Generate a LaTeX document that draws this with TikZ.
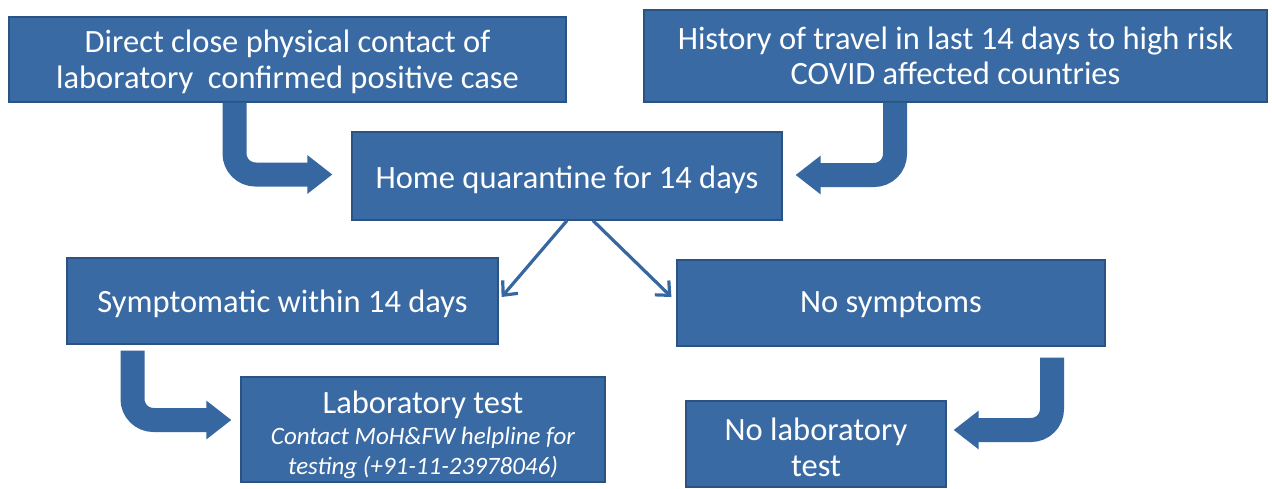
\documentclass[tikz,border=0pt]{standalone}
\usepackage{fontspec}
\setmainfont{Carlito}
\usetikzlibrary{arrows.meta,calc}
\definecolor{boxblue}{RGB}{57,106,163}
\definecolor{boxedge}{RGB}{42,82,130}
\definecolor{arrowblue}{RGB}{54,103,160}
\newcommand{\lowertext}[2]{\raisebox{-#1}[\height][\depth]{#2}}
\begin{document}
\begin{tikzpicture}[x=1pt,y=-1pt,
  box/.style={draw=boxedge, line width=1.2pt, fill=boxblue, text=white, align=center,
    inner sep=0pt, font=\fontsize{32.5}{35.5}\selectfont},
  boxtext/.style={text=white, align=center, inner sep=0pt},
  bentarrow/.style={draw=arrowblue, line width=24pt, rounded corners=21pt,
    -{Triangle[length=25pt,width=37pt]}},
  splitarrow/.style={draw=arrowblue, line width=3.2pt, -{Straight Barb[length=11pt,width=20pt]}}]
\useasboundingbox[fill=white] (0,0) rectangle (1272,488);

\node[box, minimum width=557pt, minimum height=85pt] (b1) at (287.5,59.5)
  {\lowertext{2pt}{\shortstack{Direct close physical contact of\\[5pt]laboratory~ confirmed positive case}}};
\node[box, minimum width=623pt, minimum height=92pt] (b2) at (955.5,56)
  {History of travel in last 14 days to high risk\\COVID affected countries};
\node[box, minimum width=430pt, minimum height=88pt] (hq) at (567,176)
  {\lowertext{4pt}{Home quarantine for 14 days}};
\node[box, minimum width=431pt, minimum height=86pt] (sym) at (282.5,301)
  {\lowertext{3pt}{Symptomatic within 14 days}};
\node[box, minimum width=428pt, minimum height=86pt] (nos) at (891,303)
  {\lowertext{2pt}{No symptoms}};
\node[box, minimum width=364pt, minimum height=105pt] (lab) at (423,429.5) {};
\node[boxtext, font=\fontsize{32.5}{35.5}\selectfont, anchor=base] (labt) at (423,413)
  {Laboratory test};
\node[boxtext, font=\fontsize{25}{30}\selectfont\itshape, anchor=center] (labi) at (423,453)
  {Contact MoH\&FW helpline for\\testing (+91-11-23978046)};
\node[box, minimum width=260pt, minimum height=86pt] (nolab) at (816,444)
  {\lowertext{3pt}{\shortstack{No laboratory\\[7pt]test}}};

\coordinate (a1) at (234.5,0);
\coordinate (a2) at (895,0);
\coordinate (a3) at (132.5,0);
\coordinate (a4) at (1052,0);

\draw[bentarrow] (b1.south -| a1) |- ($(hq.west)+(-19,-1.5)$);
\draw[bentarrow] (b2.south -| a2) |- ($(hq.east)+(13,-1)$);
\draw[bentarrow] ($(sym.south -| a3)+(0,6)$) |- ($(lab.west)+(-9,-9.5)$);
\draw[bentarrow] ($(nos.south -| a4)+(0,11)$) |- ($(nolab.east)+(7,-14)$);

\draw[splitarrow] (hq.south) -- ($(sym.east)+(3,-4)$);
\draw[splitarrow] ($(hq.south)+(26,0)$) -- ($(nos.west)+(-5,-6)$);
\end{tikzpicture}
\end{document}
